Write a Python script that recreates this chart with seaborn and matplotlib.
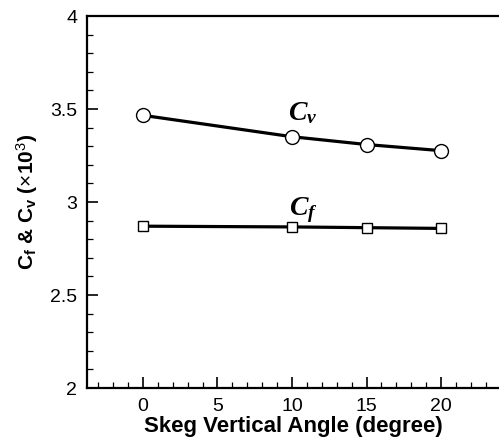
import numpy as np
import pandas as pd
import matplotlib
matplotlib.use("Agg")
import matplotlib.pyplot as plt
import seaborn as sns
from matplotlib.ticker import MultipleLocator

# skeg angle (degree) and coefficients (x10^3)
angle = [0, 10, 15, 20]
cv = [3.466, 3.351, 3.309, 3.276]
cf = [2.870, 2.866, 2.862, 2.858]

sns.set_style("white")
plt.rcParams['font.family'] = ['Liberation Sans', 'DejaVu Sans']
plt.rcParams['text.color'] = 'black'
plt.rcParams['axes.labelcolor'] = 'black'
plt.rcParams['xtick.color'] = 'black'
plt.rcParams['ytick.color'] = 'black'
plt.rcParams['mathtext.fontset'] = 'custom'
plt.rcParams['mathtext.rm'] = 'Liberation Sans'
plt.rcParams['mathtext.bf'] = 'Liberation Sans:bold'
plt.rcParams['mathtext.it'] = 'Liberation Serif:italic:bold'

df = pd.DataFrame({'angle': angle * 2,
                   'value': cv + cf,
                   'coef': ['Cv'] * 4 + ['Cf'] * 4})

fig = plt.figure(figsize=(4.99, 4.44), dpi=100)
ax = fig.add_axes([87 / 499, 1 - 388 / 444, 1 - 87 / 499 + 0.002, (388 - 16) / 444])

sns.lineplot(data=df, x='angle', y='value', style='coef',
             markers={'Cv': 'o', 'Cf': 's'}, dashes=False,
             color='black', linewidth=2.3, ax=ax, legend=False)
for line, ms in zip(ax.lines, [10, 7]):
    line.set_markersize(ms)
    line.set_markerfacecolor('white')
    line.set_markeredgecolor('black')
    line.set_markeredgewidth(1.0)

ax.text(10.7, 3.48, r'$C_v$', fontsize=20, ha='center', va='center')
ax.text(10.75, 2.955, r'$C_f$', fontsize=20, ha='center', va='center')

ax.set_xlim(-3.75, 23.95)
ax.set_ylim(2, 4)
ax.xaxis.set_major_locator(MultipleLocator(5))
ax.xaxis.set_minor_locator(MultipleLocator(1))
ax.yaxis.set_major_locator(MultipleLocator(0.5))
ax.yaxis.set_minor_locator(MultipleLocator(0.1))
ax.set_xticks([0, 5, 10, 15, 20])
ax.set_yticks([2, 2.5, 3, 3.5, 4])
ax.set_yticklabels(['2', '2.5', '3', '3.5', '4'])
ax.tick_params(which='major', direction='in', length=8, width=1.2,
               labelsize=14, bottom=True, left=True, top=False, right=False, pad=7)
ax.tick_params(which='minor', direction='in', length=4, width=0.9,
               bottom=True, left=True, top=False, right=False)
for s in ['left', 'bottom', 'top']:
    ax.spines[s].set_linewidth(1.6)
    ax.spines[s].set_color('black')
ax.spines['right'].set_visible(False)

ax.set_xlabel('Skeg Vertical Angle (degree)', fontsize=16, fontweight='bold', labelpad=1)
ax.set_ylabel(r'C$_\mathbf{f}$ & C$_\mathbf{v}$ ($\times$10$^3$)',
              fontsize=15, fontweight='bold', labelpad=7)

fig.savefig('out.png', dpi=100)
